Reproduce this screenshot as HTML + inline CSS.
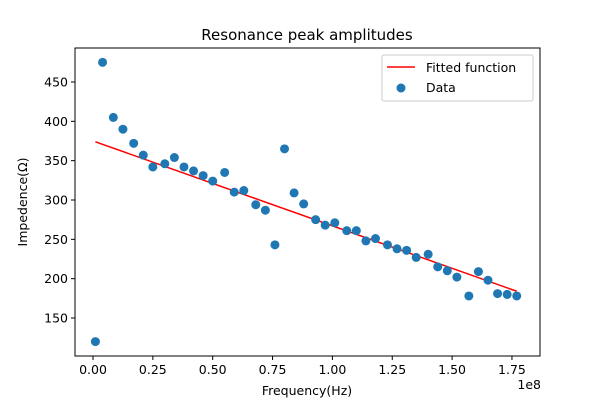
<!DOCTYPE html>
<html><head><meta charset="utf-8"><style>
body{margin:0;background:#fff;font-family:"DejaVu Sans","Liberation Sans",sans-serif}
svg text{font-family:"DejaVu Sans","Liberation Sans",sans-serif}
</style></head><body>
<svg id="c" width="600" height="400" xmlns="http://www.w3.org/2000/svg">
<rect width="600" height="400" fill="#fff"/>
</svg>
<script>
const xs=[0.01,0.04,0.085,0.125,0.17,0.21,0.25,0.30,0.34,0.38,0.42,0.46,0.50,0.55,0.59,0.63,0.68,0.72,0.76,0.80,0.84,0.88,0.93,0.97,1.01,1.06,1.10,1.14,1.18,1.23,1.27,1.31,1.35,1.40,1.44,1.48,1.52,1.57,1.61,1.65,1.69,1.73,1.77];
const ys=[120,475,405,390,372,357,342,346,354,342,337,331,324,335,310,312,294,287,243,365,309,295,275,268,271,261,261,248,251,243,238,236,227,231,215,210,202,178,209,198,181,180,178];
const fitX=[0.01,1.77];
const fitY=[374,184];
const xTicks=[0,0.25,0.5,0.75,1.0,1.25,1.5,1.75];
const xTickLabels=["0.00","0.25","0.50","0.75","1.00","1.25","1.50","1.75"];
const yTicks=[150,200,250,300,350,400,450];

const svg=document.getElementById('c');const NS='http://www.w3.org/2000/svg';
const L=75,R=540,T=48,B=356;
const sx=v=>93+v*239.4;
const sy=v=>318-(v-150)*0.7867;
function mk(t,a,txt){const e=document.createElementNS(NS,t);for(const k in a)e.setAttribute(k,a[k]);if(txt!=null)e.textContent=txt;svg.appendChild(e);return e;}
const fl=mk('polyline',{points:fitX.map((x,i)=>sx(x)+','+sy(fitY[i])).join(' '),fill:'none',stroke:'#ff0000','stroke-width':1.5});


xs.forEach((x,i)=>{const c=mk('circle',{cx:sx(x),cy:sy(ys[i]),r:4.5,fill:'#1f77b4'});

});
const fr=mk('rect',{x:L,y:T,width:R-L,height:B-T,fill:'none',stroke:'#000','stroke-width':1});


xTicks.forEach((v,i)=>{const x=sx(v);mk('line',{x1:x,y1:B,x2:x,y2:B+4,stroke:'#000'});
const t=mk('text',{x:x,y:B+18,'font-size':12.5,'text-anchor':'middle'},xTickLabels[i]);

});
yTicks.forEach(v=>{const y=sy(v);mk('line',{x1:L-4,y1:y,x2:L,y2:y,stroke:'#000'});
const t=mk('text',{x:L-7,y:y+4.5,'font-size':12.5,'text-anchor':'end'},String(v));

});
const e8=mk('text',{x:541,y:389,'font-size':12.5,'text-anchor':'end'},'1e8');


const xt=mk('text',{x:307,y:395,'font-size':12.5,'text-anchor':'middle'},'Frequency(Hz)');


const yt=mk('text',{x:27,y:202,'font-size':12.5,'text-anchor':'middle',transform:'rotate(-90 27 202)'},'Impedence(Ω)');


const ti=mk('text',{x:307,y:40,'font-size':15,'text-anchor':'middle'},'Resonance peak amplitudes');


const lg=mk('rect',{x:382,y:55,width:151,height:46,rx:2,fill:'#fff',stroke:'#ccc'});


mk('line',{x1:387,y1:67,x2:415,y2:67,stroke:'#ff0000','stroke-width':1.5});
mk('circle',{cx:401,cy:88,r:4.5,fill:'#1f77b4'});
const l1=mk('text',{x:426,y:72,'font-size':12.5},'Fitted function');


const l2=mk('text',{x:426,y:92,'font-size':12.5},'Data');


</script>
</body></html>
